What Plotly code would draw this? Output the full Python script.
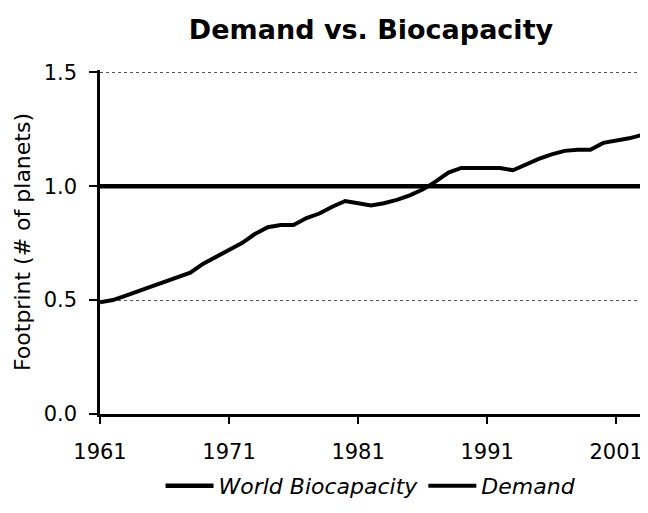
import plotly.graph_objects as go

years = list(range(1961, 2004))
demand = [0.49, 0.50, 0.52, 0.54, 0.56, 0.58, 0.60, 0.62, 0.66, 0.69,
          0.72, 0.75, 0.79, 0.82, 0.83, 0.83, 0.86, 0.88, 0.91, 0.935,
          0.925, 0.915, 0.925, 0.94, 0.96, 0.985, 1.02, 1.06, 1.08, 1.08,
          1.08, 1.08, 1.07, 1.095, 1.12, 1.14, 1.155, 1.16, 1.16, 1.19,
          1.20, 1.21, 1.225]
biocapacity = [1.0] * len(years)
x_ticks = [1961, 1971, 1981, 1991, 2001]
y_ticks = [0.0, 0.5, 1.0, 1.5]

fig = go.Figure()
fig.add_trace(go.Scatter(x=years, y=biocapacity, mode="lines", name="World Biocapacity",
                         line=dict(color="black", width=4.5)))
fig.add_trace(go.Scatter(x=years, y=demand, mode="lines", name="Demand",
                         line=dict(color="black", width=4)))

font_family = "DejaVu Sans, sans-serif"
fig.update_layout(
    width=640, height=505,
    paper_bgcolor="white", plot_bgcolor="white",
    margin=dict(l=92, r=6, t=62, b=95),
    title=dict(text="<b>Demand vs. Biocapacity</b>", x=0.5, xref="paper", xanchor="center",
               y=0.958, yanchor="middle", font=dict(family=font_family, size=27, color="black")),
    font=dict(family=font_family, size=21, color="black"),
    showlegend=True,
    legend=dict(orientation="h", x=0.5, xanchor="center", y=-0.209, yanchor="middle",
                font=dict(family=font_family, size=22, color="black", style="italic"),
                itemwidth=48, tracegroupgap=0),
)
fig.update_xaxes(range=[1961, 2003], tickvals=x_ticks, ticktext=[str(v) for v in x_ticks],
                 showline=True, linecolor="black", linewidth=2.5, ticks="outside", ticklen=7,
                 tickwidth=2, tickcolor="black", showgrid=False, zeroline=False,
                 tickfont=dict(size=21), ticklabelstandoff=10)
fig.update_yaxes(range=[0, 1.51], tickvals=y_ticks, ticktext=["0.0", "0.5", "1.0", "1.5"],
                 showline=True, linecolor="black", linewidth=2.5, ticks="outside", ticklen=8,
                 tickwidth=2, tickcolor="black", showgrid=True, gridcolor="#555555",
                 gridwidth=1, griddash="dot", zeroline=False,
                 title=dict(text="Footprint (# of planets)", font=dict(size=22), standoff=7),
                 tickfont=dict(size=21), ticklabelstandoff=8)

fig.write_html("out.html")
